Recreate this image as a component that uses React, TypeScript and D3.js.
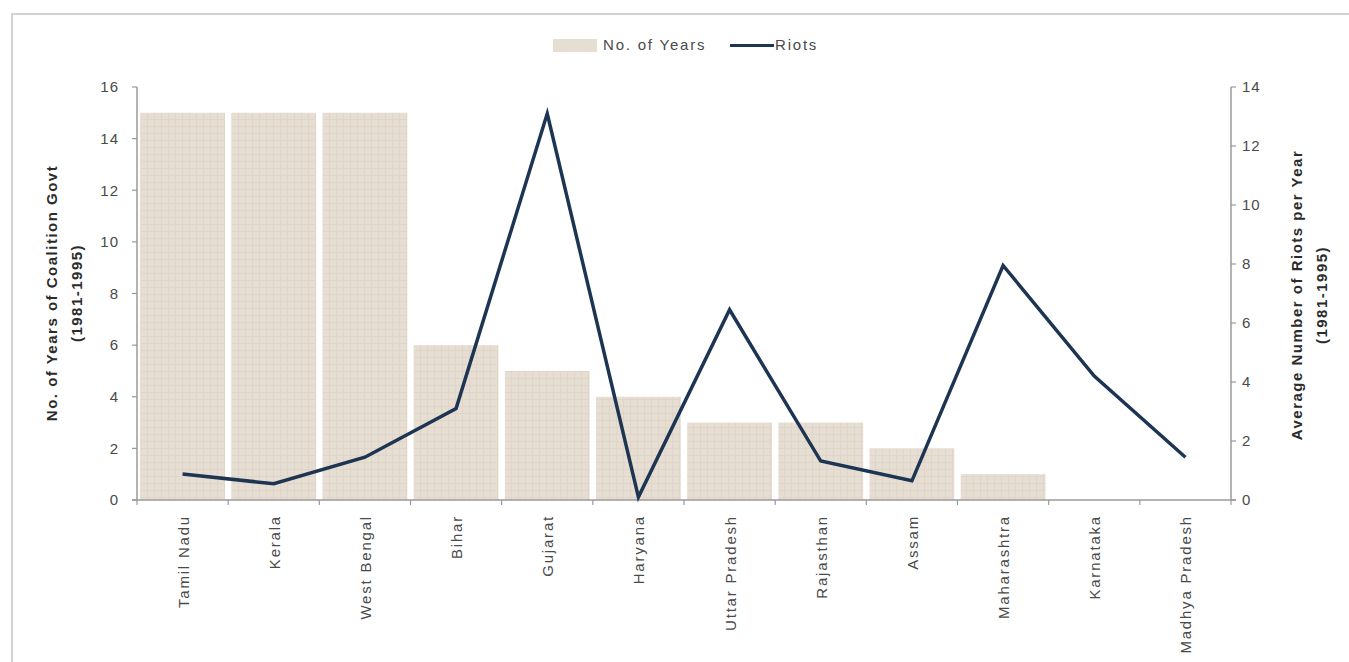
import React from "react";
import * as d3 from "d3";

// Coalition government years vs. average riots per year, 1981-1995
const states = [
  "Tamil Nadu",
  "Kerala",
  "West Bengal",
  "Bihar",
  "Gujarat",
  "Haryana",
  "Uttar Pradesh",
  "Rajasthan",
  "Assam",
  "Maharashtra",
  "Karnataka",
  "Madhya Pradesh",
];
const coalitionYears = [15, 15, 15, 6, 5, 4, 3, 3, 2, 1, 0, 0];
const avgRiots = [0.88, 0.55, 1.45, 3.1, 13.1, 0.1, 6.45, 1.32, 0.65, 7.95, 4.2, 1.45];
const leftTicks = [0, 2, 4, 6, 8, 10, 12, 14, 16];
const rightTicks = [0, 2, 4, 6, 8, 10, 12, 14];

const W = 1349;
const H = 662;
const plot = { left: 137, right: 1231, top: 87, bottom: 500 };

const BAR_FILL = "#e6ded2";
const LINE_COLOR = "#1d3553";
const AXIS_COLOR = "#9a9a9a";
const TEXT_COLOR = "#4a4a4a";
const FONT = "'Liberation Sans', Arial, sans-serif";

export default function App() {
  const x = d3
    .scaleBand<string>()
    .domain(states)
    .range([plot.left, plot.right])
    .paddingInner(0.07)
    .paddingOuter(0.035);
  const step = (plot.right - plot.left) / states.length;
  const yLeft = d3.scaleLinear().domain([0, 16]).range([plot.bottom, plot.top]);
  const yRight = d3.scaleLinear().domain([0, 14]).range([plot.bottom, plot.top]);

  const line = d3
    .line<number>()
    .x((_, i) => (x(states[i]) as number) + x.bandwidth() / 2)
    .y((d) => yRight(d));

  const boundaries = d3.range(states.length + 1).map((i) => plot.left + i * step);

  return (
    <svg
      width={W}
      height={H}
      style={{ position: "absolute", left: 0, top: 0, display: "block", background: "#fff" }}
      fontFamily={FONT}
    >
      <defs>
        <pattern id="barTex" width="7" height="7" patternUnits="userSpaceOnUse">
          <rect width="7" height="7" fill={BAR_FILL} />
          <path d="M0 0.5H7M0.5 0V7" stroke="#dbd2c4" strokeWidth="1" opacity="0.7" />
        </pattern>
      </defs>

      {/* outer frame */}
      <path d={`M12 ${H} V14 H${W}`} fill="none" stroke="#d2d2d2" strokeWidth={2} />

      {/* legend */}
      <g>
        <rect x={553} y={39} width={44} height={13} fill={BAR_FILL} />
        <text x={603} y={50} fontSize={15} letterSpacing={1.8} fill={TEXT_COLOR}>
          No. of Years
        </text>
        <line x1={730} x2={774} y1={45.5} y2={45.5} stroke={LINE_COLOR} strokeWidth={3} />
        <text x={775} y={50} fontSize={15} letterSpacing={1.8} fill={TEXT_COLOR}>
          Riots
        </text>
      </g>

      {/* bars */}
      {coalitionYears.map((v, i) =>
        v > 0 ? (
          <rect
            key={states[i]}
            x={x(states[i])}
            y={yLeft(v)}
            width={x.bandwidth()}
            height={plot.bottom - yLeft(v)}
            fill="url(#barTex)"
          />
        ) : null
      )}

      {/* axes */}
      <line x1={plot.left} x2={plot.left} y1={plot.top} y2={plot.bottom} stroke={AXIS_COLOR} strokeWidth={1.5} />
      <line x1={plot.right} x2={plot.right} y1={plot.top} y2={plot.bottom} stroke={AXIS_COLOR} strokeWidth={1.5} />
      <line x1={plot.left - 5} x2={plot.right + 5} y1={plot.bottom} y2={plot.bottom} stroke={AXIS_COLOR} strokeWidth={1.5} />

      {leftTicks.map((t) => (
        <g key={"l" + t}>
          <line x1={plot.left - 5} x2={plot.left} y1={yLeft(t)} y2={yLeft(t)} stroke={AXIS_COLOR} strokeWidth={1.2} />
          <text
            x={plot.left - 18}
            y={yLeft(t)}
            dy="0.35em"
            textAnchor="end"
            fontSize={15}
            letterSpacing={1}
            fill={TEXT_COLOR}
          >
            {t}
          </text>
        </g>
      ))}
      {rightTicks.map((t) => (
        <g key={"r" + t}>
          <line x1={plot.right} x2={plot.right + 5} y1={yRight(t)} y2={yRight(t)} stroke={AXIS_COLOR} strokeWidth={1.2} />
          <text
            x={plot.right + 11}
            y={yRight(t)}
            dy="0.35em"
            textAnchor="start"
            fontSize={15}
            letterSpacing={1}
            fill={TEXT_COLOR}
          >
            {t}
          </text>
        </g>
      ))}
      {boundaries.map((bx, i) => (
        <line key={"b" + i} x1={bx} x2={bx} y1={plot.bottom} y2={plot.bottom + 5} stroke={AXIS_COLOR} strokeWidth={1.2} />
      ))}

      {/* category labels */}
      {states.map((s) => {
        const cx = (x(s) as number) + x.bandwidth() / 2;
        return (
          <text
            key={"x" + s}
            transform={`translate(${cx + 6},515) rotate(-90)`}
            textAnchor="end"
            fontSize={15}
            letterSpacing={1.8}
            fill={TEXT_COLOR}
          >
            {s}
          </text>
        );
      })}

      {/* riots line */}
      <path
        d={line(avgRiots) as string}
        fill="none"
        stroke={LINE_COLOR}
        strokeWidth={3.5}
        strokeLinejoin="miter"
      />

      {/* axis titles */}
      <g fontWeight="bold" fontSize={15} fill="#2b2b2b" textAnchor="middle">
        <text transform="translate(57,293) rotate(-90)" letterSpacing={1.5}>
          No. of Years of Coalition Govt
        </text>
        <text transform="translate(82,293) rotate(-90)" letterSpacing={1.5}>
          (1981-1995)
        </text>
        <text transform="translate(1302,295) rotate(-90)" letterSpacing={1.5}>
          Average Number of Riots per Year
        </text>
        <text transform="translate(1327,295) rotate(-90)" letterSpacing={1.5}>
          (1981-1995)
        </text>
      </g>
    </svg>
  );
}
